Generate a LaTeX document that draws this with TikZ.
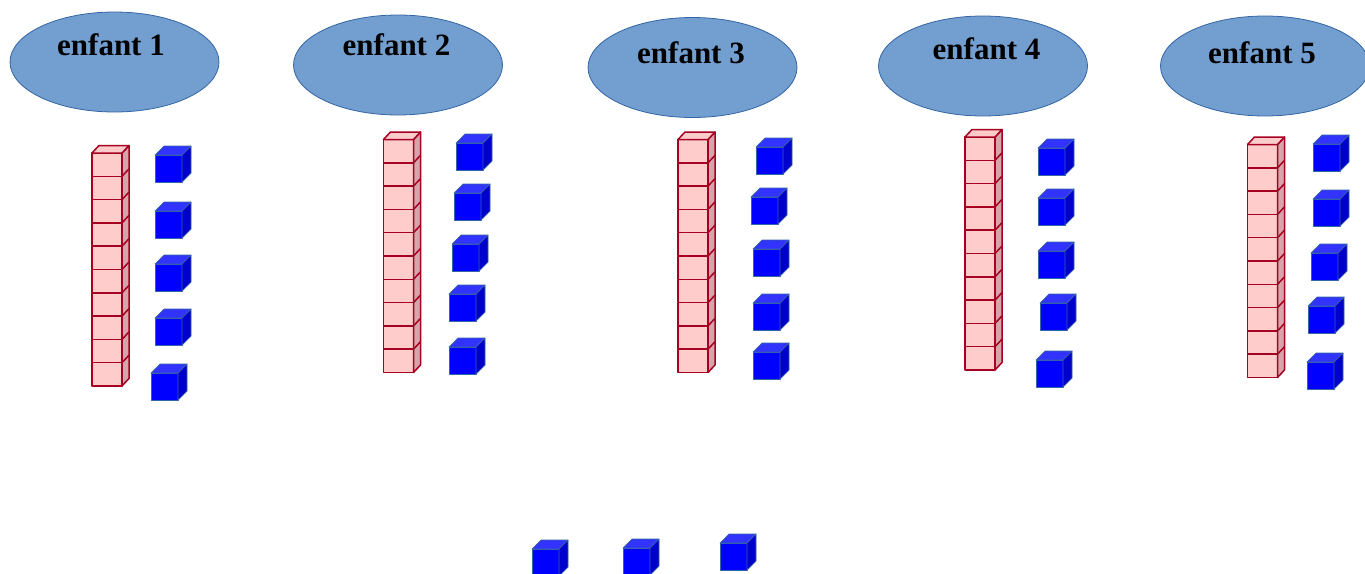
\documentclass[tikz,border=0pt]{standalone}
\usepackage{fontspec}
\setmainfont{Liberation Serif}
\usepackage{tikz}
\usetikzlibrary{shapes.geometric}

\definecolor{kidfill}{RGB}{114,159,207}
\definecolor{kidline}{RGB}{52,101,164}
\definecolor{rodfront}{RGB}{255,204,204}
\definecolor{rodside}{RGB}{214,164,170}
\definecolor{rodline}{RGB}{165,0,33}
\definecolor{cubefront}{RGB}{0,0,255}
\definecolor{cubetop}{RGB}{51,51,255}
\definecolor{cubeside}{RGB}{0,0,204}
\definecolor{cubeline}{RGB}{52,101,164}

% one unit cube, (#1,#2) = top left corner of the front face
\newcommand{\unitcube}[2]{%
  \draw[cube,fill=cubefront] (#1,#2) rectangle ++(27,27);
  \draw[cube,fill=cubetop] (#1,#2) -- ++(9,-9) -- ++(27,0) -- ++(-9,9) -- cycle;
  \draw[cube,fill=cubeside] (#1+27,#2) -- ++(9,-9) -- ++(0,27) -- ++(-9,9) -- cycle;
}
% a rod of ten, same corner convention
\newcommand{\tenrod}[2]{%
  \foreach \k in {0,...,9}
    \draw[rod,fill=rodfront] (#1,#2+\k*23.3) rectangle ++(30,23.3);
  \draw[rod,fill=rodside] (#1+30,#2) -- ++(7,-7.5) -- ++(0,233) -- ++(-7,7.5) -- cycle;
  \foreach \k in {1,...,9}
    \draw[rod] (#1+30,#2+\k*23.3) -- ++(7,-7.5);
  \draw[rod,fill=rodfront] (#1,#2) -- ++(7,-7.5) -- ++(30,0) -- ++(-7,7.5) -- cycle;
}

\begin{document}
\begin{tikzpicture}[x=1pt,y=-1pt]
% Define styles
\tikzstyle{kid} = [ellipse, draw=kidline, fill=kidfill, line width=0.8pt, minimum width=209pt, minimum height=100pt, inner sep=0pt]
\tikzstyle{kidname} = [font=\fontsize{31}{37}\selectfont\bfseries, inner sep=0pt]
\tikzstyle{rod} = [draw=rodline, line width=1.5pt, line join=round]
\tikzstyle{cube} = [draw=cubeline, line width=0.7pt, line join=round]
\useasboundingbox (0,0) rectangle (1365,573);
% Children
\node[kid] (kid1) at (114.5,62) {};
\node[kid] (kid2) at (398,65) {};
\node[kid] (kid3) at (692.5,67.5) {};
\node[kid] (kid4) at (983,66) {};
\node[kid] (kid5) at (1265,66) {};
\node[kidname] (name1) at (111,45) {enfant 1};
\node[kidname] (name2) at (396.5,45) {enfant 2};
\node[kidname] (name3) at (691,53) {enfant 3};
\node[kidname] (name4) at (986.5,49) {enfant 4};
\node[kidname] (name5) at (1262,53) {enfant 5};
% Rods of ten
\tenrod{92}{153}
\tenrod{383.5}{139.5}
\tenrod{678}{139.5}
\tenrod{965}{137}
\tenrod{1247.5}{144.5}
% Unit cubes, child 1
\unitcube{155}{155}
\unitcube{155}{211}
\unitcube{155}{264}
\unitcube{155}{318}
\unitcube{151}{373}
% child 2
\unitcube{456}{143}
\unitcube{454}{193}
\unitcube{452}{244}
\unitcube{449}{294}
\unitcube{449}{347}
% child 3
\unitcube{756}{147}
\unitcube{751}{197}
\unitcube{753}{249}
\unitcube{753}{303}
\unitcube{753}{352}
% child 4
\unitcube{1038}{148}
\unitcube{1038}{198}
\unitcube{1038}{251}
\unitcube{1040}{303}
\unitcube{1036}{360}
% child 5
\unitcube{1313}{144}
\unitcube{1313}{199}
\unitcube{1311}{253}
\unitcube{1308}{306}
\unitcube{1307}{362}
% Left over
\unitcube{532}{549}
\unitcube{623}{548}
\unitcube{720}{543}
\end{tikzpicture}
\end{document}
